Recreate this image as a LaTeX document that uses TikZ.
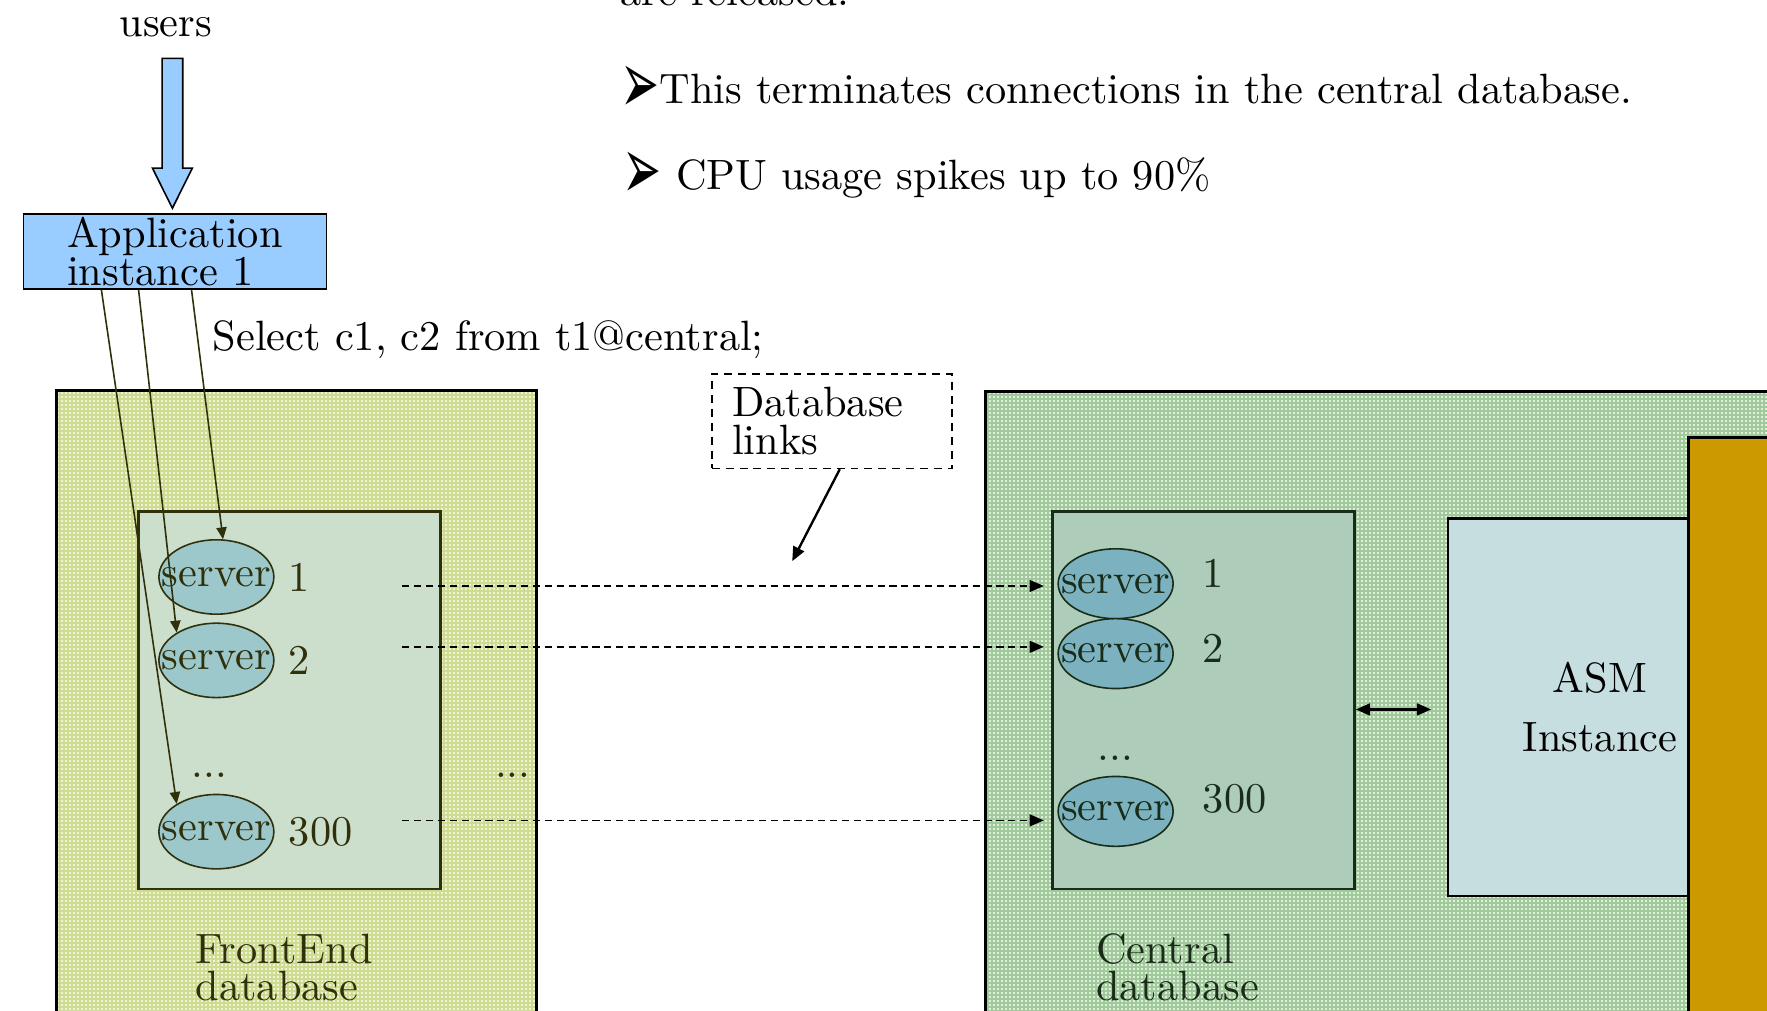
\documentclass[tikz,border=0pt]{standalone}
\usepackage{fontspec}
\newfontfamily\dingfont{DejaVu Sans}
\usetikzlibrary{positioning, calc, arrows.meta, shapes.geometric, shapes.arrows, patterns.meta}

\definecolor{appblue}{RGB}{153,204,255}
\definecolor{feback}{RGB}{240,244,214}
\definecolor{fegrid}{RGB}{206,220,146}
\definecolor{feinner}{RGB}{204,222,204}
\definecolor{ceback}{RGB}{226,238,220}
\definecolor{cegrid}{RGB}{160,202,156}
\definecolor{ceinner}{RGB}{174,204,186}
\definecolor{asmblue}{RGB}{198,222,224}
\definecolor{asmgold}{RGB}{204,153,0}
\definecolor{fesrvcol}{RGB}{156,200,204}
\definecolor{cesrvcol}{RGB}{124,178,192}
\definecolor{feink}{RGB}{48,48,10}
\definecolor{ceink}{RGB}{24,44,24}

\newcommand{\bul}{{\dingfont\raisebox{-0.9mm}{\scalebox{1.1}[2.1]{➢}}}}

\begin{document}
\begin{tikzpicture}[
        x = 0.1mm, y = -0.1mm, % one unit = one pixel, y downwards
        > = {Triangle[length=3.6pt, width=3pt]}, % arrow head style
        node distance = 1.2mm,
        thin % line style
    ]

    \tikzstyle{every node}=[
    inner sep = 0pt,
    font = \fontsize{10.7}{9.4}\selectfont
    ]
    \tikzstyle{dbbox}=[draw = black, line width = 0.8pt, anchor = north west]
    \tikzstyle{grid}=[pattern = {Hatch[angle=0, distance=1.01pt, line width=0.45pt]}]
    \tikzstyle{innerbox}=[line width = 0.6pt, anchor = north west, minimum width = 26.8mm, minimum height = 33.5mm]
    \tikzstyle{fesrv}=[ellipse, draw = feink, fill = fesrvcol, minimum width = 10.2mm, minimum height = 6.6mm, text = feink]
    \tikzstyle{cesrv}=[ellipse, draw = ceink, fill = cesrvcol, minimum width = 10.2mm, minimum height = 6.2mm, text = ceink]
    \tikzstyle{dblink}=[->, dash pattern = on 1.8pt off 1.2pt]
    \tikzstyle{call}=[-{Triangle[length=3pt, width=2.6pt]}, feink]

    \useasboundingbox (0,0) rectangle (1568,897);

    % text at the top
    \node[anchor=base west] (rel) at (550,5) {are released.};
    \node[anchor=base west] (b1) at (550,92) {\bul This terminates connections in the central database.};
    \node[anchor=base west] (b2) at (552,168) {\bul\ CPU usage spikes up to 90\%};

    % users and application
    \node[anchor=base] (users) at (147,32) {users};
    \node[single arrow, draw, fill = appblue, rotate = -90, minimum height = 13.3mm,
          minimum width = 3.4mm, inner ysep = 0.85mm, single arrow head extend = 0.85mm,
          single arrow tip angle = 53] (usrarrow) at (153,109) {};
    \node[draw, fill = appblue, align = left, minimum width = 26.9mm, minimum height = 6.7mm,
          anchor = north west] (app) at (20,189) {Application\\instance 1};
    \node[anchor=west] (sel) at (188,301) {Select c1, c2 from t1@central;};

    % the two databases
    \node[dbbox, preaction = {fill = feback}, grid, pattern color = fegrid,
          minimum width = 42.6mm, minimum height = 56.4mm] (fe) at (49,346) {};
    \node[dbbox, preaction = {fill = ceback}, grid, pattern color = cegrid,
          minimum width = 70.7mm, minimum height = 56.4mm] (ce) at (873,346) {};
    \node[dbbox, fill = asmgold, minimum width = 8.3mm, minimum height = 52.3mm] (gold) at (1497,387) {};
    \node[dbbox, fill = asmblue, line width = 0.6pt, minimum width = 21.3mm, minimum height = 33.5mm] (asm) at (1284,459) {};
    \node[anchor=east, align=center, font=\fontsize{10.7}{14.8}\selectfont] (asmtxt) at ([xshift=-1mm]asm.east) {ASM\\Instance};

    \node[innerbox, draw = feink, fill = feinner] (fein) at (122,453) {};
    \node[innerbox, draw = ceink, fill = ceinner] (cein) at (933,453) {};

    \node[anchor=north west, align=left, text = feink] (felbl) at (173,828) {FrontEnd\\database};
    \node[anchor=north west, align=left, text = ceink] (celbl) at (972,828) {Central\\database};

    % server processes
    \node[fesrv] (fe1) at (192,512) {\makebox[0pt]{server}};
    \node[fesrv] (fe2) at (192,586) {\makebox[0pt]{server}};
    \node[fesrv] (fe300) at (192,738) {\makebox[0pt]{server}};
    \node[right=of fe1, text = feink] (fe1n) {1};
    \node[right=of fe2, text = feink] (fe2n) {2};
    \node[right=of fe300, text = feink] (fe300n) {300};
    \node[text = feink] (fedots) at (186,688) {...};
    \node[text = feink] (fedots2) at (455,688) {...};

    \node[cesrv] (ce1) at (990,518) {\makebox[0pt]{server}};
    \node[cesrv] (ce2) at (990,580) {\makebox[0pt]{server}};
    \node[cesrv] (ce300) at (990,720) {\makebox[0pt]{server}};
    \node[right=2.5mm of ce1, yshift=0.9mm, text = ceink] (ce1n) {1};
    \node[right=2.5mm of ce2, yshift=0.5mm, text = ceink] (ce2n) {2};
    \node[right=2.5mm of ce300, yshift=1.1mm, text = ceink] (ce300n) {300};
    \node[text = ceink] (cedots) at (990,673) {...};

    % database links
    \node[draw, dash pattern = on 2pt off 1.5pt, align = left, anchor = north west,
          minimum width = 21.3mm, minimum height = 8.4mm, text width = 17.7mm,
          inner xsep = 1.8mm] (links) at (631,331) {Database\\links};
    \coordinate (linkpt) at (703,498);
    \draw[->, semithick] ([xshift=0.7mm]links.south) -- (linkpt);

    \coordinate (lk1) at (357,520);
    \coordinate (lk2) at (357,574);
    \coordinate (lk300) at (357,728);
    \draw[dblink, shorten >=1.2mm] (lk1) -- (lk1 -| ce1.west);
    \draw[dblink, shorten >=1.2mm] (lk2) -- (lk2 -| ce2.west);
    \draw[dblink, shorten >=1.2mm] (lk300) -- (lk300 -| ce300.west);

    % sessions from the application
    \draw[call] ($(app.south west)+(150,0)$) -- (fe1.80);
    \draw[call] ($(app.south west)+(103,0)$) -- (fe2.145);
    \draw[call] ($(app.south west)+(70,0)$) -- (fe300.145);

    % ASM
    \draw[<->, semithick, shorten >=1.4mm] ([yshift=-0.8mm]cein.east) -- ([yshift=-0.8mm]cein.east -| asm.west);
\end{tikzpicture}
\end{document}
